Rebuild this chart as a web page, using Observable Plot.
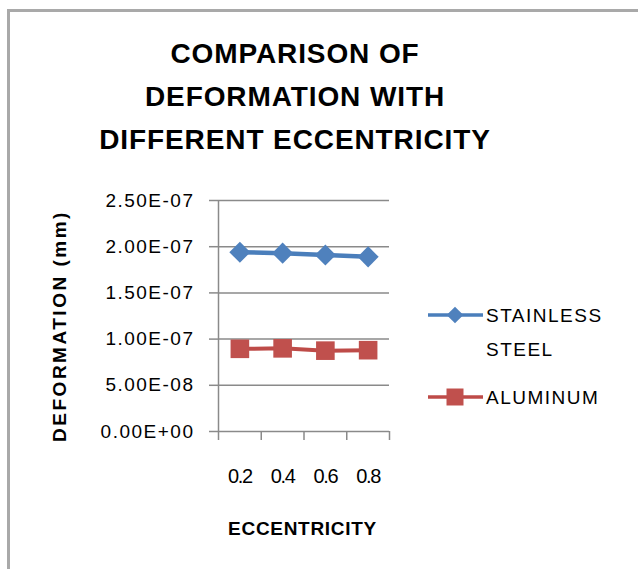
<!DOCTYPE html>
<html><head><meta charset="utf-8">
<script src="https://cdn.jsdelivr.net/npm/d3@7"></script>
<script src="https://cdn.jsdelivr.net/npm/@observablehq/plot@0.6"></script>
<style>
html,body{margin:0;padding:0;background:#fff;overflow:hidden;}
#chart{position:relative;width:638px;height:569px;overflow:hidden;font-family:"Liberation Sans",Arial,sans-serif;color:#000;}
.border{position:absolute;left:7px;top:9px;width:800px;height:800px;border-left:3px solid #a9a9a9;border-top:3px solid #a9a9a9;box-sizing:border-box;}
.title{position:absolute;left:0;top:32px;width:590px;text-align:center;font-weight:bold;font-size:28px;line-height:43px;letter-spacing:0.9px;}
.ytitle{position:absolute;left:59px;top:326px;transform:translate(-50%,-50%) rotate(-90deg);white-space:nowrap;font-weight:bold;font-size:19px;line-height:1;letter-spacing:2.5px;}
.xtitle{position:absolute;left:0;top:519px;width:605px;text-align:center;font-weight:bold;font-size:19px;line-height:1;letter-spacing:0.7px;}
#plot{position:absolute;left:0;top:0;}
#plot svg{overflow:visible;}
g[aria-label="y-axis tick label"] text{letter-spacing:1.5px;font-size:19px;}
g[aria-label="x-axis tick label"] text{letter-spacing:-1.3px;font-size:20px;}
.legtext{position:absolute;left:486px;font-size:19px;line-height:1;letter-spacing:1.5px;white-space:nowrap;}
#legend{position:absolute;left:0;top:0;}
</style>
</head><body>
<div id="chart">
  <div class="border"></div>
  <div class="title">COMPARISON OF<br>DEFORMATION WITH<br>DIFFERENT ECCENTRICITY</div>
  <div id="plot"></div>
  <div class="ytitle">DEFORMATION (mm)</div>
  <div class="xtitle">ECCENTRICITY</div>
</div>
<script>
// ---- data ----
const eccentricity = [0.2, 0.4, 0.6, 0.8];
const stainlessSteel = [1.94e-7, 1.93e-7, 1.91e-7, 1.89e-7];
const aluminum = [8.95e-8, 9.0e-8, 8.75e-8, 8.8e-8];
const seriesNames = ["STAINLESS STEEL", "ALUMINUM"];
const legendLines = [["STAINLESS", "STEEL"], ["ALUMINUM"]];
const seriesColors = ["#4A7EBB", "#BE4B48"];
const markerColors = ["#4F81BD", "#C0504D"];
const yTicks = [0, 5e-8, 1e-7, 1.5e-7, 2e-7, 2.5e-7];
const xTickLabels = ["0.2", "0.4", "0.6", "0.8"];

const rows = [];
eccentricity.forEach((e, i) => {
  rows.push({series: seriesNames[0], x: e, y: stainlessSteel[i]});
  rows.push({series: seriesNames[1], x: e, y: aluminum[i]});
});
const step = eccentricity[1] - eccentricity[0];
const bounds = [eccentricity[0] - step / 2, ...eccentricity.map(d => d + step / 2)];

const fmtE = d => {
  const [m, e] = d.toExponential(2).split("e");
  const sign = e[0] === "-" ? "-" : "+";
  const digits = e.replace(/^[+-]/, "").padStart(2, "0");
  return `${m}E${sign}${digits}`;
};

const grid = "#8a8a8a";
const plot = Plot.plot({
  width: 638, height: 569,
  marginLeft: 218, marginRight: 249, marginTop: 200, marginBottom: 138,
  x: {domain: [bounds[0], bounds[bounds.length - 1]], label: null},
  y: {domain: [yTicks[0], yTicks[yTicks.length - 1]], label: null},
  style: {fontFamily: '"Liberation Sans", Arial, sans-serif', background: "transparent", color: "#000"},
  marks: [
    Plot.gridY(yTicks, {stroke: grid, strokeOpacity: 1, strokeWidth: 1.5}),
    Plot.ruleX([bounds[0]], {stroke: grid, strokeWidth: 1.5}),
    Plot.axisY({ticks: yTicks, tickSize: 9, tickPadding: 15, tickFormat: fmtE, fontSize: 19, stroke: grid, strokeWidth: 1.5, fill: "#000", label: null}),
    Plot.axisX({ticks: bounds, tickSize: 9, tickFormat: () => "", stroke: grid, strokeWidth: 1.5, label: null}),
    Plot.axisX({ticks: eccentricity, tickSize: 0, tickPadding: 37, tickFormat: (d, i) => xTickLabels[i], fontSize: 20, fill: "#000", label: null}),
    Plot.line(rows.filter(d => d.series === seriesNames[0]), {x: "x", y: "y", stroke: seriesColors[0], strokeWidth: 4.5}),
    Plot.line(rows.filter(d => d.series === seriesNames[1]), {x: "x", y: "y", stroke: seriesColors[1], strokeWidth: 4}),
    Plot.dot(rows.filter(d => d.series === seriesNames[0]), {x: "x", y: "y", symbol: "diamond2", r: 9.5, fill: markerColors[0], stroke: "none"}),
    Plot.dot(rows.filter(d => d.series === seriesNames[1]), {x: "x", y: "y", symbol: "square", r: 10.5, fill: markerColors[1], stroke: "none"})
  ]
});
document.getElementById("plot").appendChild(plot);

// ---- legend ----
const chart = document.getElementById("chart");
const legendY = [315, 397];
const svg = d3.select(chart).append("svg").attr("id", "legend").attr("width", 638).attr("height", 569);
const symbols = [d3.symbolDiamond2, d3.symbolSquare];
const symSizes = [Math.PI * 7.5 * 7.5, 17 * 17];
seriesNames.forEach((name, i) => {
  const y = legendY[i];
  svg.append("line").attr("x1", 428).attr("x2", 483).attr("y1", y).attr("y2", y)
    .attr("stroke", seriesColors[i]).attr("stroke-width", 3.5);
  svg.append("path").attr("transform", `translate(455,${y})`)
    .attr("d", d3.symbol(symbols[i], symSizes[i])()).attr("fill", markerColors[i]);
  legendLines[i].forEach((t, j) => {
    const div = document.createElement("div");
    div.className = "legtext";
    div.textContent = t;
    div.style.top = (y - 9 + j * 34) + "px";
    chart.appendChild(div);
  });
});
</script>
</body></html>
